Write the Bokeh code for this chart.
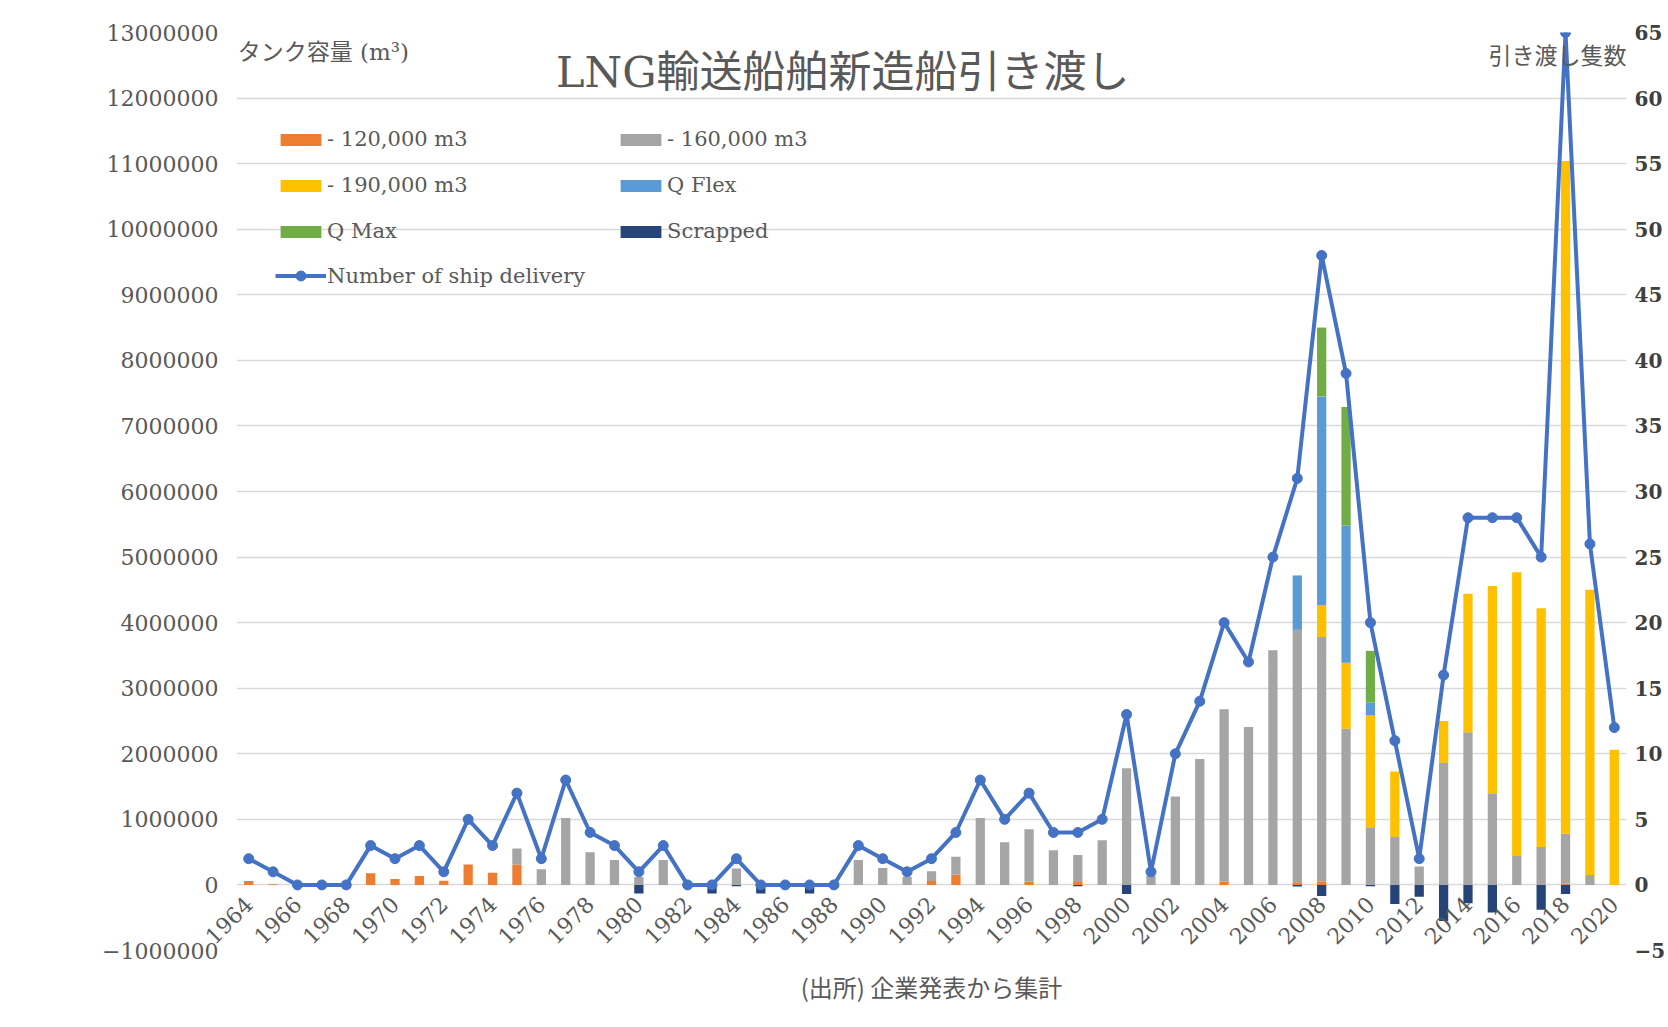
import math
from bokeh.plotting import figure
from bokeh.models import (Range1d, LinearAxis, FixedTicker, BasicTickFormatter, Legend,
                          LegendItem, Label, ColumnDataSource)
from bokeh.embed import file_html
from bokeh.resources import INLINE

# ---------------- data ----------------
years = list(range(1964, 2021))

cap_120k = [60000, 10000, 0, 0, 0, 180000, 90000, 135000, 65000, 310000,
            185000, 310000, 0, 0, 0, 0, 0, 0, 0, 0,
            0, 0, 0, 0, 0, 0, 0, 0, 60000, 160000,
            0, 0, 50000, 0, 45000, 0, 0, 0, 0, 0,
            50000, 0, 0, 40000, 50000, 0, 0, 0, 0, 0,
            0, 0, 0, 0, 20000, 0, 0]

cap_160k = [0, 0, 0, 0, 0, 0, 0, 0, 0, 0,
            0, 245000, 240000, 1020000, 500000, 380000, 120000, 380000, 0, 0,
            250000, 0, 0, 0, 0, 380000, 260000, 125000, 150000, 270000,
            1020000, 650000, 800000, 530000, 410000, 680000, 1780000, 140000, 1350000, 1920000,
            2630000, 2410000, 3580000, 3850000, 3730000, 2380000, 880000, 730000, 280000, 1860000,
            2330000, 1400000, 440000, 580000, 760000, 150000, 0]

cap_190k = [0] * 44 + [490000, 1010000, 1710000, 1000000, 0, 640000,
                       2110000, 3160000, 4330000, 3640000, 10260000, 4350000, 2060000]

q_flex = [0] * 43 + [830000, 3180000, 2090000, 190000] + [0] * 10

q_max = [0] * 44 + [1050000, 1810000, 790000] + [0] * 10

scrapped = [0, 0, 0, 0, 0, 0, 0, 0, 0, 0,
            0, 0, 0, 0, 0, 0, -130000, 0, 0, -130000,
            -20000, -130000, 0, -130000, 0, 0, 0, 0, 0, 0,
            0, 0, 0, 0, -20000, 0, -140000, 0, 0, 0,
            0, 0, 0, -25000, -170000, 0, -20000, -290000, -180000, -550000,
            -280000, -420000, 0, -380000, -140000, 0, 0]

ship_count = [2, 1, 0, 0, 0, 3, 2, 3, 1, 5,
              3, 7, 2, 8, 4, 3, 1, 3, 0, 0,
              2, 0, 0, 0, 0, 3, 2, 1, 2, 4,
              8, 5, 7, 4, 4, 5, 13, 1, 10, 14,
              20, 17, 25, 31, 48, 39, 20, 11, 2, 16,
              28, 28, 28, 25, 65, 26, 12]

label_years = list(range(1964, 2021, 2))
label_texts = [str(y) for y in label_years]

left_ticks = list(range(-1000000, 13000001, 1000000))
right_ticks = list(range(-5, 66, 5))

series_names = ["- 120,000 m3", "- 160,000 m3", "- 190,000 m3", "Q Flex", "Q Max"]
series_colors = ["#ED7D31", "#A5A5A5", "#FFC000", "#5B9BD5", "#70AD47"]
scrap_color = "#264478"
line_color = "#4472C4"

# ---------------- styling ----------------
SERIF = "DejaVu Serif"
JP = "Noto Sans CJK JP"
MIX = "'DejaVu Serif', 'Noto Sans CJK JP'"
TXT = "#595959"

p = figure(width=1668, height=1027, output_backend="svg", toolbar_location=None,
           x_range=Range1d(1963.5, 2020.5), y_range=Range1d(-1000000, 13000000),
           x_axis_location="below", y_axis_location="left",
           min_border_left=236, min_border_right=38, min_border_top=32, min_border_bottom=77)
p.title.visible = False
p.outline_line_color = None
p.background_fill_color = "white"
p.border_fill_color = "white"

# left axis
p.yaxis.ticker = FixedTicker(ticks=left_ticks)
p.yaxis.formatter = BasicTickFormatter(use_scientific=False)
p.yaxis.axis_line_color = None
p.yaxis.major_tick_line_color = None
p.yaxis.minor_tick_line_color = None
p.yaxis.major_tick_out = 0
p.yaxis.major_tick_in = 0
p.yaxis.major_label_standoff = 18
p.yaxis.major_label_text_font = SERIF
p.yaxis.major_label_text_font_size = "22px"
p.yaxis.major_label_text_color = TXT

# category axis: labels pulled up so they sit just under the zero line
p.xaxis.ticker = FixedTicker(ticks=label_years)
p.xaxis.major_label_overrides = {y: t for y, t in zip(label_years, label_texts)}
p.xaxis.major_label_orientation = math.pi / 4
p.xaxis.major_label_standoff = -50
p.xaxis.axis_line_color = None
p.xaxis.major_tick_line_color = None
p.xaxis.minor_tick_line_color = None
p.xaxis.major_tick_out = 0
p.xaxis.major_tick_in = 0
p.xaxis.major_label_text_font = SERIF
p.xaxis.major_label_text_font_size = "22px"
p.xaxis.major_label_text_color = TXT
p.xaxis.axis_label = "(出所) 企業発表から集計"
p.xaxis.axis_label_text_font = JP
p.xaxis.axis_label_text_font_size = "24px"
p.xaxis.axis_label_text_font_style = "normal"
p.xaxis.axis_label_text_color = TXT
p.xaxis.axis_label_standoff = 15

p.ygrid.grid_line_color = "#D9D9D9"
p.ygrid.grid_line_width = 1.3
p.xgrid.grid_line_color = None

# right axis
p.extra_y_ranges = {"cnt": Range1d(-5, 65)}
raxis = LinearAxis(y_range_name="cnt", ticker=FixedTicker(ticks=right_ticks),
                   axis_line_color=None, major_tick_line_color=None, minor_tick_line_color=None,
                   major_tick_out=0, major_tick_in=0,
                   major_label_standoff=8, major_label_text_font=SERIF,
                   major_label_text_font_size="20px", major_label_text_font_style="bold",
                   major_label_text_color="#404040")
p.add_layout(raxis, "right")

# ---------------- bars ----------------
src = ColumnDataSource(dict(year=years, c120=cap_120k, c160=cap_160k, c190=cap_190k,
                            qflex=q_flex, qmax=q_max, scrapped=scrapped))
stack_cols = ["c120", "c160", "c190", "qflex", "qmax"]
bars = p.vbar_stack(stack_cols, x="year", width=0.38, fill_color=series_colors,
                    line_color=None, source=src)
scrap_r = p.vbar(x="year", top="scrapped", bottom=0, width=0.38, fill_color=scrap_color,
                 line_color=None, source=src)

# ---------------- line ----------------
ln = p.line(years, ship_count, y_range_name="cnt", line_width=4, line_color=line_color,
            line_join="round")
mk = p.scatter(years, ship_count, y_range_name="cnt", size=10, fill_color=line_color,
               line_color=line_color)

# ---------------- titles inside the plot area ----------------
p.add_layout(Label(x=1988.36, y=12390000, text="LNG輸送船舶新造船引き渡し",
                   text_align="center", text_baseline="middle", text_font=MIX,
                   text_font_size="43px", text_color=TXT))
p.add_layout(Label(x=1963.55, y=12695000, text="タンク容量 (m³)",
                   text_align="left", text_baseline="middle", text_font=MIX,
                   text_font_size="23px", text_color=TXT))
p.add_layout(Label(x=2020.5, y=12665000, text="引き渡し隻数",
                   text_align="right", text_baseline="middle", text_font=JP,
                   text_font_size="23px", text_color=TXT))

# ---------------- legends ----------------
def make_legend(items, loc, gh):
    return Legend(items=items, location=loc, orientation="vertical",
                  background_fill_alpha=0, border_line_color=None, padding=0, margin=0,
                  spacing=22, glyph_width=51, glyph_height=gh, label_standoff=1,
                  label_text_font=SERIF, label_text_font_size="21px",
                  label_text_color=TXT, label_height=24, label_text_baseline="middle")

leg1 = make_legend([LegendItem(label=series_names[0], renderers=[bars[0]]),
                    LegendItem(label=series_names[2], renderers=[bars[2]]),
                    LegendItem(label=series_names[4], renderers=[bars[4]])], (39, 707), 15)
leg2 = make_legend([LegendItem(label=series_names[1], renderers=[bars[1]]),
                    LegendItem(label=series_names[3], renderers=[bars[3]]),
                    LegendItem(label="Scrapped", renderers=[scrap_r])], (379, 707), 15)
leg3 = make_legend([LegendItem(label="Number of ship delivery", renderers=[ln, mk])],
                   (39, 662), 25)
p.add_layout(leg1)
p.add_layout(leg2)
p.add_layout(leg3)

open("out.html", "w").write(file_html(p, INLINE))
